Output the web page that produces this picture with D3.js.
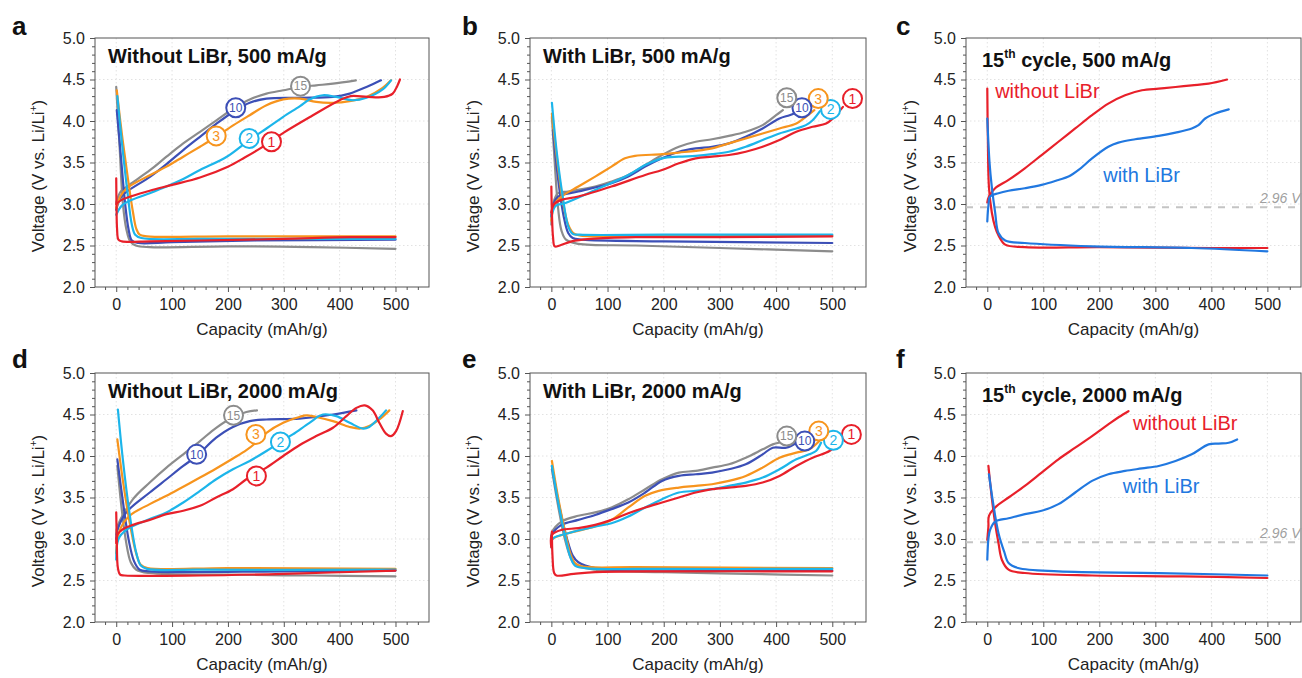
<!DOCTYPE html>
<meta charset="utf-8">
<style>
body { margin: 0; background: #fff; }
svg { display: block; font-family: Arial, "Liberation Sans", sans-serif; }
.frame { fill: none; stroke: #555; stroke-width: 1; }
.grid line { stroke: #e2e2e2; stroke-width: 1; stroke-dasharray: 1.5,2.5; }
.curve { fill: none; stroke-width: 2.2; stroke-linejoin: round; stroke-linecap: round; }
</style>
<svg width="1302" height="678"></svg>
<script src="https://d3js.org/d3.v7.min.js"></script>
<script>

// cycles shown in panels a, b, d, e
var cycles = [1, 2, 3, 10, 15];
var cycleColors = ["#e8202a", "#1cb5ea", "#f7941d", "#3c4fb6", "#8c8c8c"];
// panels c, f
var pairNames = ["without LiBr", "with LiBr"];
var pairColors = ["#e8202a", "#2178e0"];

var xTicks = [0, 100, 200, 300, 400, 500];
var xMinor = [-20, 20, 40, 60, 80, 120, 140, 160, 180, 220, 240, 260, 280, 320, 340, 360, 380, 420, 440, 460, 480, 520, 540];
var yTicks = [2.0, 2.5, 3.0, 3.5, 4.0, 4.5, 5.0];
var yMinor = [2.1, 2.2, 2.3, 2.4, 2.6, 2.7, 2.8, 2.9, 3.1, 3.2, 3.3, 3.4, 3.6, 3.7, 3.8, 3.9, 4.1, 4.2, 4.3, 4.4, 4.6, 4.7, 4.8, 4.9];
var refVoltage = 2.96;

// ---- a: without LiBr, 500 mA/g  (order: cycle 1, 2, 3, 10, 15) ----
var aDischarge = [
  [[0,3.31],[0.5,3.0],[1.5,2.7],[4,2.57],[10,2.55],[60,2.55],[150,2.56],[300,2.58],[420,2.6],[500,2.6]],
  [[2,4.3],[10,3.75],[20,3.15],[28,2.75],[34,2.63],[45,2.59],[150,2.58],[300,2.58],[500,2.58]],
  [[1,4.37],[10,3.85],[20,3.35],[30,2.9],[36,2.7],[42,2.63],[55,2.61],[200,2.61],[500,2.61]],
  [[1,4.13],[8,3.6],[16,3.0],[22,2.7],[28,2.56],[40,2.53],[100,2.54],[250,2.56],[500,2.57]],
  [[0,4.41],[6,3.7],[12,3.0],[18,2.7],[25,2.55],[35,2.5],[60,2.48],[200,2.49],[350,2.48],[500,2.46]]
];
var aCharge = [
  [[0,3.0],[10,3.05],[30,3.1],[60,3.16],[100,3.23],[150,3.32],[200,3.45],[230,3.56],[260,3.68],[300,3.86],[350,4.06],[400,4.25],[420,4.3],[450,4.29],[480,4.29],[495,4.33],[503,4.42],[508,4.5]],
  [[0,2.87],[10,2.98],[28,3.05],[60,3.13],[90,3.21],[120,3.3],[150,3.41],[198,3.57],[238,3.77],[269,3.91],[299,4.05],[329,4.18],[346,4.26],[370,4.31],[394,4.29],[424,4.25],[448,4.28],[477,4.38],[492,4.49]],
  [[0,2.95],[8,3.1],[19,3.19],[61,3.35],[90,3.45],[120,3.57],[150,3.69],[179,3.81],[210,3.95],[239,4.07],[269,4.19],[299,4.26],[329,4.27],[358,4.23],[388,4.22],[418,4.24],[448,4.29],[477,4.4],[492,4.49]],
  [[0,2.93],[8,3.08],[19,3.15],[61,3.33],[90,3.48],[120,3.65],[150,3.81],[180,3.97],[214,4.13],[239,4.22],[269,4.27],[329,4.28],[388,4.29],[418,4.33],[448,4.41],[474,4.49]],
  [[0,3.02],[8,3.15],[19,3.21],[61,3.41],[90,3.57],[120,3.73],[150,3.87],[180,4.01],[210,4.15],[239,4.26],[269,4.33],[299,4.37],[330,4.41],[358,4.43],[388,4.45],[429,4.49]]
];
var aLabels = [[278,3.75],[238,3.79],[179,3.82],[214,4.16],[330,4.42]];

// ---- b: with LiBr, 500 mA/g ----
var bDischarge = [
  [[0,3.21],[1,2.9],[3,2.6],[6,2.49],[15,2.5],[36,2.55],[70,2.58],[150,2.6],[300,2.6],[500,2.61]],
  [[1,4.22],[10,3.6],[20,3.1],[30,2.73],[38,2.64],[50,2.63],[200,2.63],[500,2.63]],
  [[1,4.09],[10,3.55],[20,3.05],[30,2.75],[39,2.65],[50,2.62],[200,2.62],[500,2.62]],
  [[3,3.89],[12,3.3],[22,2.85],[30,2.65],[38,2.59],[55,2.57],[200,2.55],[500,2.53]],
  [[1,4.05],[6,3.5],[12,2.95],[18,2.68],[26,2.57],[48,2.52],[150,2.5],[300,2.47],[500,2.43]]
];
var bCharge = [
  [[0,2.9],[5,3.0],[18,3.05],[48,3.09],[107,3.21],[167,3.35],[197,3.41],[227,3.49],[257,3.55],[286,3.57],[316,3.59],[346,3.63],[376,3.69],[406,3.77],[436,3.87],[465,3.93],[489,3.97],[501,4.03],[519,4.17]],
  [[0,2.85],[8,2.98],[24,3.01],[78,3.17],[137,3.35],[167,3.47],[197,3.55],[227,3.57],[257,3.58],[286,3.6],[316,3.63],[346,3.69],[376,3.77],[406,3.85],[436,3.91],[453,3.95],[465,4.01],[478,4.12]],
  [[0,2.8],[6,3.0],[18,3.09],[48,3.21],[78,3.33],[107,3.45],[131,3.55],[149,3.58],[197,3.6],[227,3.62],[257,3.64],[286,3.67],[316,3.73],[346,3.79],[376,3.85],[406,3.91],[436,3.97],[453,4.05],[468,4.13]],
  [[0,2.85],[4,3.0],[12,3.09],[48,3.15],[107,3.25],[137,3.33],[167,3.45],[197,3.55],[227,3.63],[257,3.67],[286,3.69],[316,3.73],[346,3.81],[376,3.91],[406,4.03],[424,4.07],[435,4.1]],
  [[0,2.75],[3,3.0],[12,3.13],[30,3.15],[78,3.21],[107,3.27],[137,3.35],[167,3.47],[197,3.59],[227,3.69],[257,3.75],[286,3.78],[316,3.82],[346,3.87],[376,3.95],[400,4.07],[412,4.13]]
];
var bLabels = [[536,4.27],[497,4.14],[475,4.27],[446,4.16],[419,4.28]];

// ---- c: 15th cycle, 500 mA/g  (order: without, with) ----
var cDischarge = [
  [[0,4.39],[1,3.8],[3,3.2],[8,2.9],[14,2.72],[20,2.62],[32,2.51],[67,2.48],[200,2.48],[400,2.47],[500,2.47]],
  [[0,4.03],[4,3.5],[8,3.21],[14,2.9],[20,2.65],[32,2.56],[67,2.53],[187,2.49],[365,2.47],[500,2.43]]
];
var cCharge = [
  [[0,3.02],[3,3.09],[14,3.19],[38,3.29],[67,3.43],[97,3.59],[127,3.75],[157,3.91],[187,4.07],[216,4.21],[246,4.31],[276,4.37],[306,4.39],[336,4.41],[365,4.43],[395,4.45],[428,4.5]],
  [[0,2.79],[2,2.98],[5,3.09],[20,3.13],[38,3.16],[67,3.19],[97,3.23],[127,3.29],[145,3.33],[163,3.41],[187,3.55],[216,3.69],[234,3.74],[264,3.78],[306,3.82],[336,3.86],[365,3.91],[377,3.95],[389,4.03],[407,4.09],[431,4.14]]
];
var cLabels = [[14,4.28],[207,3.27]];

// ---- d: without LiBr, 2000 mA/g ----
var dDischarge = [
  [[0,3.32],[1,3.0],[3,2.65],[7,2.57],[15,2.56],[150,2.56],[300,2.58],[500,2.62]],
  [[3,4.56],[12,3.95],[24,3.3],[36,2.83],[44,2.68],[55,2.64],[150,2.63],[500,2.63]],
  [[2,4.2],[12,3.7],[24,3.2],[36,2.82],[44,2.69],[56,2.65],[200,2.65],[500,2.64]],
  [[2,3.96],[12,3.45],[22,3.0],[32,2.73],[42,2.63],[60,2.61],[300,2.61],[500,2.62]],
  [[2,3.88],[10,3.35],[18,2.95],[26,2.72],[36,2.63],[60,2.59],[200,2.57],[350,2.56],[500,2.55]]
];
var dCharge = [
  [[0,2.95],[2,3.05],[12,3.12],[30,3.17],[60,3.23],[90,3.3],[120,3.34],[150,3.4],[179,3.5],[209,3.6],[233,3.72],[251,3.79],[269,3.86],[299,4.0],[328,4.13],[358,4.24],[388,4.34],[412,4.48],[430,4.58],[445,4.61],[459,4.55],[471,4.4],[483,4.27],[492,4.24],[501,4.3],[513,4.54]],
  [[0,2.75],[4,3.0],[18,3.11],[60,3.24],[90,3.32],[120,3.44],[150,3.58],[179,3.72],[209,3.84],[239,3.94],[269,4.06],[294,4.17],[316,4.26],[346,4.4],[370,4.5],[394,4.48],[418,4.4],[442,4.33],[453,4.35],[471,4.46],[483,4.55]],
  [[0,2.83],[6,3.1],[24,3.28],[60,3.42],[90,3.52],[120,3.63],[150,3.74],[179,3.85],[209,3.97],[233,4.07],[250,4.16],[269,4.28],[299,4.4],[328,4.47],[340,4.49],[358,4.47],[388,4.42],[418,4.35],[436,4.33],[453,4.36],[471,4.44],[489,4.55]],
  [[0,3.0],[2,3.1],[18,3.32],[60,3.56],[90,3.72],[120,3.88],[144,4.0],[179,4.22],[209,4.35],[239,4.42],[269,4.44],[328,4.45],[388,4.5],[430,4.55]],
  [[0,3.05],[2,3.15],[30,3.48],[60,3.68],[90,3.86],[120,4.02],[150,4.18],[179,4.34],[210,4.47],[233,4.53],[252,4.55]]
];
var dLabels = [[251,3.76],[294,4.17],[250,4.26],[144,4.02],[210,4.49]];

// ---- e: with LiBr, 2000 mA/g ----
var eDischarge = [
  [[1,3.09],[2,2.8],[5,2.59],[9,2.56],[40,2.58],[78,2.6],[200,2.61],[500,2.61]],
  [[1,3.88],[12,3.45],[24,3.05],[34,2.78],[42,2.68],[60,2.65],[200,2.64],[500,2.64]],
  [[1,3.94],[12,3.5],[24,3.1],[34,2.82],[42,2.71],[54,2.67],[150,2.66],[500,2.65]],
  [[1,3.88],[14,3.4],[28,3.0],[38,2.8],[48,2.72],[78,2.65],[200,2.63],[500,2.62]],
  [[1,3.84],[12,3.4],[24,3.0],[34,2.78],[42,2.69],[78,2.63],[200,2.6],[350,2.58],[500,2.56]]
];
var eCharge = [
  [[0,2.9],[1,3.05],[18,3.11],[48,3.13],[78,3.17],[107,3.23],[137,3.31],[167,3.38],[197,3.44],[227,3.5],[257,3.56],[286,3.6],[316,3.62],[346,3.64],[376,3.68],[406,3.76],[436,3.88],[465,3.98],[495,4.06],[513,4.16]],
  [[0,2.9],[2,3.0],[30,3.07],[78,3.15],[107,3.19],[137,3.27],[167,3.38],[197,3.48],[227,3.56],[257,3.58],[286,3.6],[316,3.64],[346,3.68],[376,3.74],[406,3.84],[436,3.96],[459,4.02],[471,4.06],[480,4.16]],
  [[0,2.95],[2,3.0],[30,3.07],[78,3.15],[107,3.23],[137,3.38],[167,3.52],[191,3.58],[227,3.62],[257,3.64],[286,3.66],[316,3.7],[346,3.76],[376,3.86],[406,3.98],[436,4.04],[459,4.08],[477,4.18]],
  [[0,2.95],[1,3.05],[18,3.17],[48,3.23],[78,3.29],[107,3.36],[137,3.44],[167,3.56],[197,3.7],[227,3.76],[257,3.78],[286,3.8],[316,3.84],[346,3.9],[376,4.02],[394,4.1],[418,4.1],[436,4.16]],
  [[0,2.95],[1,3.08],[18,3.21],[48,3.28],[78,3.32],[107,3.38],[137,3.48],[167,3.6],[197,3.72],[227,3.8],[257,3.82],[286,3.86],[316,3.9],[346,3.98],[376,4.08],[394,4.14],[405,4.16]]
];
var eLabels = [[534,4.26],[502,4.19],[476,4.3],[451,4.18],[419,4.24]];

// ---- f: 15th cycle, 2000 mA/g ----
var fDischarge = [
  [[2,3.88],[8,3.5],[14,3.19],[20,2.95],[26,2.75],[38,2.63],[67,2.59],[187,2.56],[350,2.55],[500,2.53]],
  [[3,3.78],[10,3.45],[20,3.07],[30,2.85],[38,2.71],[55,2.65],[127,2.61],[306,2.59],[500,2.56]]
];
var fCharge = [
  [[0,2.99],[2,3.15],[3,3.28],[14,3.38],[38,3.5],[67,3.64],[97,3.8],[127,3.96],[157,4.1],[187,4.24],[216,4.38],[235,4.47],[252,4.54]],
  [[0,2.75],[2,3.0],[5,3.11],[14,3.21],[38,3.25],[67,3.3],[97,3.34],[127,3.42],[157,3.56],[187,3.7],[216,3.78],[246,3.82],[276,3.85],[306,3.88],[336,3.94],[365,4.02],[395,4.14],[413,4.15],[431,4.16],[446,4.2]]
];
var fLabels = [[260,4.31],[242,3.55]];

var panels = [
  {id: "a", col: 0, row: 0, title: "Without LiBr, 500 mA/g", dis: aDischarge, chg: aCharge, labels: aLabels},
  {id: "b", col: 1, row: 0, title: "With LiBr, 500 mA/g", dis: bDischarge, chg: bCharge, labels: bLabels},
  {id: "c", col: 2, row: 0, title: "500 mA/g", dis: cDischarge, chg: cCharge, labels: cLabels, pair: true},
  {id: "d", col: 0, row: 1, title: "Without LiBr, 2000 mA/g", dis: dDischarge, chg: dCharge, labels: dLabels},
  {id: "e", col: 1, row: 1, title: "With LiBr, 2000 mA/g", dis: eDischarge, chg: eCharge, labels: eLabels},
  {id: "f", col: 2, row: 1, title: "2000 mA/g", dis: fDischarge, chg: fCharge, labels: fLabels, pair: true}
];

var colLeft = [95, 530, 966],
    colRight = [429, 866, 1301],
    rowTop = [38, 373],
    rowBottom = [287, 622],
    letterX = [12, 462, 896],
    letterY = [35, 368],
    ylabX = [38, 473, 910];

var svg = d3.select("svg");

panels.forEach(function(p) {
  var L = colLeft[p.col], R = colRight[p.col], T = rowTop[p.row], B = rowBottom[p.row];
  var x = d3.scaleLinear().domain([-38, 560]).range([L, R]);
  var y = d3.scaleLinear().domain([2, 5]).range([B, T]);
  var g = svg.append("g");

  // grid
  var grid = g.append("g").attr("class", "grid");
  grid.selectAll(".gx").data(xTicks).enter().append("line")
      .attr("x1", function(d) { return x(d); }).attr("x2", function(d) { return x(d); })
      .attr("y1", T).attr("y2", B);
  grid.selectAll(".gy").data(yTicks.slice(1, -1)).enter().append("line")
      .attr("x1", L).attr("x2", R)
      .attr("y1", function(d) { return y(d); }).attr("y2", function(d) { return y(d); });

  // axes
  function styleAxis(sel) {
    sel.attr("font-family", "Arial, 'Liberation Sans', sans-serif").attr("font-size", 16);
    sel.select(".domain").remove();
    sel.selectAll("line").attr("stroke", "#555");
    sel.selectAll("text").attr("fill", "#222");
  }
  g.append("g").attr("transform", "translate(0," + B + ")")
      .call(d3.axisBottom(x).tickValues(xMinor).tickSize(3).tickFormat(""))
      .call(styleAxis);
  g.append("g").attr("transform", "translate(0," + B + ")")
      .call(d3.axisBottom(x).tickValues(xTicks).tickSize(5).tickPadding(7))
      .call(styleAxis);
  g.append("g").attr("transform", "translate(" + L + ",0)")
      .call(d3.axisLeft(y).tickValues(yMinor).tickSize(3).tickFormat(""))
      .call(styleAxis);
  g.append("g").attr("transform", "translate(" + L + ",0)")
      .call(d3.axisLeft(y).tickValues(yTicks).tickSize(5).tickPadding(5).tickFormat(d3.format(".1f")))
      .call(styleAxis);

  g.append("rect").attr("class", "frame")
      .attr("x", L).attr("y", T).attr("width", R - L).attr("height", B - T);

  var line = d3.line()
      .x(function(d) { return x(d[0]); })
      .y(function(d) { return y(d[1]); })
      .curve(d3.curveCatmullRom.alpha(0.5));

  if (p.pair) {
    // reference line
    g.append("line")
        .attr("x1", L).attr("x2", R)
        .attr("y1", y(refVoltage)).attr("y2", y(refVoltage))
        .attr("stroke", "#c4c4c4").attr("stroke-width", 2).attr("stroke-dasharray", "7,7");
    g.append("text")
        .attr("x", R - 41).attr("y", y(refVoltage) - 4)
        .attr("font-size", 14).attr("font-style", "italic").attr("fill", "#a0a0a0")
        .text(refVoltage.toFixed(2) + " V");

    [0, 1].forEach(function(i) {
      g.append("path").attr("class", "curve").attr("stroke", pairColors[i]).attr("d", line(p.dis[i]));
      g.append("path").attr("class", "curve").attr("stroke", pairColors[i]).attr("d", line(p.chg[i]));
    });
    p.labels.forEach(function(d, i) {
      g.append("text")
          .attr("x", x(d[0])).attr("y", y(d[1]))
          .attr("font-size", 20).attr("fill", pairColors[i])
          .text(pairNames[i]);
    });

    var t = g.append("text")
        .attr("x", L + 16).attr("y", T + 29)
        .attr("font-size", 20).attr("font-weight", "bold").attr("fill", "#111");
    t.append("tspan").text("15");
    t.append("tspan").attr("font-size", 12).attr("dy", -9).text("th");
    t.append("tspan").attr("dy", 9).text(" cycle, " + p.title);
  } else {
    // draw cycle 15 first so cycle 1 ends up on top
    for (var i = cycles.length - 1; i >= 0; i--) {
      g.append("path").attr("class", "curve").attr("stroke", cycleColors[i]).attr("d", line(p.dis[i]));
      g.append("path").attr("class", "curve").attr("stroke", cycleColors[i]).attr("d", line(p.chg[i]));
    }
    var lab = g.selectAll(".lab").data(p.labels).enter().append("g")
        .attr("transform", function(d) { return "translate(" + x(d[0]) + "," + y(d[1]) + ")"; });
    lab.append("circle").attr("r", 9.5)
        .attr("fill", "#fff").attr("stroke-width", 2)
        .attr("stroke", function(d, i) { return cycleColors[i]; });
    lab.append("text")
        .attr("text-anchor", "middle").attr("dy", "0.36em")
        .attr("font-size", function(d, i) { return cycles[i] > 9 ? 12 : 14; })
        .attr("fill", function(d, i) { return cycleColors[i]; })
        .text(function(d, i) { return cycles[i]; });

    g.append("text")
        .attr("x", L + 13).attr("y", T + 25)
        .attr("font-size", 20).attr("font-weight", "bold").attr("fill", "#111")
        .text(p.title);
  }

  // panel letter
  g.append("text")
      .attr("x", letterX[p.col]).attr("y", letterY[p.row])
      .attr("font-size", 26).attr("font-weight", "bold").attr("fill", "#111")
      .text(p.id);

  // axis titles
  g.append("text")
      .attr("x", (L + R) / 2).attr("y", B + 48)
      .attr("text-anchor", "middle").attr("font-size", 17).attr("fill", "#222")
      .text("Capacity (mAh/g)");
  var yl = g.append("text")
      .attr("transform", "translate(" + ylabX[p.col] + "," + (T + 138) + ") rotate(-90)")
      .attr("text-anchor", "middle").attr("dy", "0.35em")
      .attr("font-size", 17).attr("fill", "#222");
  yl.append("tspan").text("Voltage (V vs. Li/Li");
  yl.append("tspan").attr("font-size", 10).attr("dy", -7).text("+");
  yl.append("tspan").attr("dy", 7).text(")");
});

</script>
